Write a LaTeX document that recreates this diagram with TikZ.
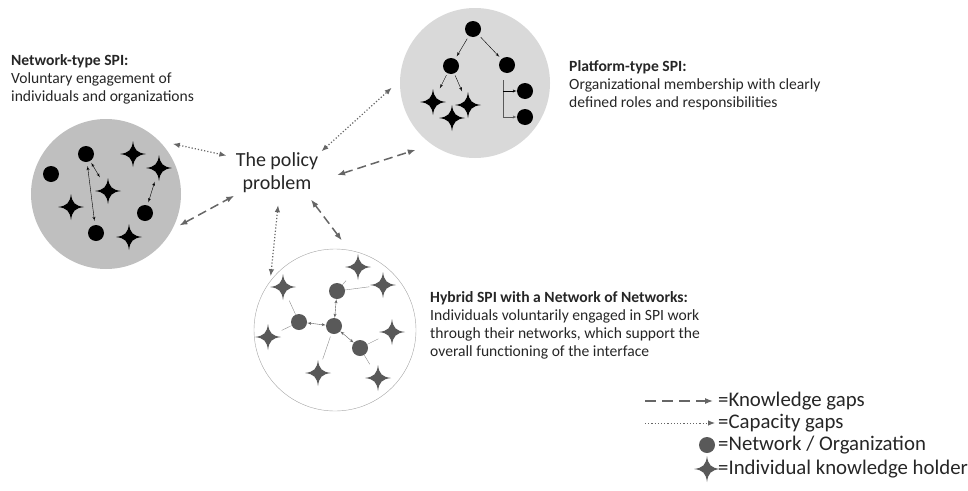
\documentclass[tikz,border=0pt]{standalone}
\usepackage{fontspec}
\setmainfont{Carlito}
\usetikzlibrary{positioning}
\usetikzlibrary{arrows}
\usetikzlibrary{arrows.meta}
\usetikzlibrary{shapes.geometric}

\definecolor{arrowgray}{HTML}{666666}
\definecolor{darkcircle}{HTML}{BFBFBF}
\definecolor{lightcircle}{HTML}{D9D9D9}
\definecolor{rimgray}{HTML}{A6A6A6}
\definecolor{dotgray}{HTML}{595959}
\definecolor{linegray}{HTML}{8C8C8C}
\definecolor{textgray}{HTML}{262626}

\begin{document}
\begin{tikzpicture}[x=1pt,y=-1pt]

\tikzset{
    org/.style={circle, fill=#1, minimum size=16pt, inner sep=0pt},
    org/.default=black,
    holder/.style={rectangle, inner sep=0pt, minimum size=27pt, path picture={
        \fill[#1, shift={(path picture bounding box.center)}]
          (0pt,13pt) .. controls (1.2pt,4pt) and (4pt,1.2pt) .. (13pt,0pt)
          .. controls (4pt,-1.2pt) and (1.2pt,-4pt) .. (0pt,-13pt)
          .. controls (-1.2pt,-4pt) and (-4pt,-1.2pt) .. (-13pt,0pt)
          .. controls (-4pt,1.2pt) and (-1.2pt,4pt) .. cycle;}},
    holder/.default=black,
    kgap/.style={<->, > = {Latex[length=8pt,width=6pt]}, draw=arrowgray, line width=1.5pt, dash pattern=on 9pt off 5pt},
    cgap/.style={<->, > = {Latex[length=7pt,width=5.5pt]}, draw=arrowgray, line width=1.2pt, dotted},
    link/.style={<->, > = latex', thin},
    tree/.style={->, > = latex', thin},
    spoke/.style={draw=linegray, thin},
    desc/.style={align=left, anchor=west, inner sep=0pt, font=\fontsize{15.6}{18}\selectfont, text=textgray},
    legend/.style={anchor=west, inner sep=0pt, font=\fontsize{20.8}{23}\selectfont, text=textgray}
}
\useasboundingbox (0,0) rectangle (968,490);

% ----------- the three SPI types ----------- %
\node[circle, fill=darkcircle, minimum size=150pt, inner sep=0pt] (netw) at (106,194) {};
\node[circle, fill=lightcircle, minimum size=150pt, inner sep=0pt] (plat) at (475,83) {};
\node[circle, draw=rimgray, fill=white, minimum size=162pt, inner sep=0pt] (hyb) at (335,330) {};

% network-type
\node[org] (n1) at (86,154) {};
\node[org] (n2) at (51,174) {};
\node[org] (n3) at (145,213) {};
\node[org] (n4) at (96,233) {};
\node[holder] (ns1) at (133,154) {};
\node[holder] (ns2) at (159,168) {};
\node[holder] (ns3) at (108,191) {};
\node[holder] (ns4) at (71,207) {};
\node[holder] (ns5) at (129,237) {};
\draw[link, shorten <=2pt] (n1) -- (ns3);
\draw[link, shorten <=4pt, shorten >=4pt] (n1) -- (n4);
\draw[link, shorten >=3pt] (ns2) -- (n3);

% platform-type
\node[org] (p1) at (473,29) {};
\node[org] (p2) at (451,66) {};
\node[org] (p3) at (507,65) {};
\node[org] (p4) at (525,91) {};
\node[org] (p5) at (525,117) {};
\node[holder] (ps1) at (433,102) {};
\node[holder] (ps2) at (468,105) {};
\node[holder] (ps3) at (452,118) {};
\draw[tree, shorten <=3pt, shorten >=3pt] (p1) -- (p2);
\draw[tree, shorten <=3pt, shorten >=3pt] (p1) -- (p3);
\draw[tree, shorten <=2pt] (p2) -- (ps1);
\draw[tree, shorten <=2pt] (p2) -- (ps2);
\coordinate (br) at (503,80);
\draw[tree, draw=dotgray] (br) |- (p5);
\draw[tree] (br |- p4) -- (p4);

% hybrid
\node[org=dotgray] (h1) at (337,291) {};
\node[org=dotgray] (h2) at (299,322) {};
\node[org=dotgray] (h3) at (334,326) {};
\node[org=dotgray] (h4) at (360,348) {};
\node[holder=dotgray] (hs1) at (358,267) {};
\node[holder=dotgray] (hs2) at (383,285) {};
\node[holder=dotgray] (hs3) at (283,287) {};
\node[holder=dotgray] (hs4) at (268,337) {};
\node[holder=dotgray] (hs5) at (392,332) {};
\node[holder=dotgray] (hs6) at (318,373) {};
\node[holder=dotgray] (hs7) at (378,378) {};
\draw[spoke] (h1) -- (hs1);
\draw[spoke] (h1) -- (hs2);
\draw[spoke] (h2) -- (hs3);
\draw[spoke] (h2) -- (hs4);
\draw[spoke, shorten <=3pt] (h3) -- (hs6);
\draw[spoke] (h4) -- (hs5);
\draw[spoke] (h4) -- (hs7);
\draw[link, draw=dotgray] (h2) -- (h3);
\draw[link, draw=dotgray] (h1) -- (h3);
\draw[link, draw=dotgray] (h3) -- (h4);

% ----------- texts ----------- %
\node[ellipse, minimum width=120pt, minimum height=64pt, inner sep=0pt, align=center,
      font=\fontsize{20}{23}\selectfont, text=textgray] (policy) at (277,173) {The policy\\problem};
\node[desc] (netwtext) at (11,79) {\textbf{Network-type SPI:}\\Voluntary engagement of\\individuals and organizations};
\node[desc] (plattext) at (569,85) {\textbf{Platform-type SPI:}\\Organizational membership with clearly\\defined roles and responsibilities};
\node[desc] (hybtext) at (430,325) {\textbf{Hybrid SPI with a\ Network of Networks:}\\Individuals voluntarily engaged in SPI work\\through their networks, which support the\\overall functioning of the interface};

% ----------- gaps ----------- %
\draw[cgap, shorten <=14pt] (netw.45) -- (policy.161);
\draw[kgap, shorten <=8pt] (netw.-28) -- (policy.208);
\draw[cgap, shorten >=11pt] (policy.26) -- (plat.178);
\draw[kgap, shorten >=17pt] (policy.-2) -- (plat.235);
\draw[cgap, shorten >=5pt] (policy.272) -- (hyb.143);
\draw[kgap, shorten >=12pt] (policy.-38) -- (hyb.80);

% ----------- legend ----------- %
\node[legend] (lk) at (718,401) {=Knowledge gaps};
\node[legend] (lc) at (718,423) {=Capacity gaps};
\node[legend] (lo) at (718,445) {=Network / Organization};
\node[legend] (lh) at (718,469) {=Individual knowledge holder};
\coordinate (lk0) at (645,401);
\coordinate (lc0) at (645,423);
\draw[kgap, -> , line width=1.2pt, dash pattern=on 11pt off 6pt] (lk0) -- ([xshift=-5pt]lk.west);
\draw[cgap, -> , line width=0.9pt] (lc0) -- ([xshift=-3pt]lc.west);
\node[org=dotgray] (lodot) at (707,445) {};
\node[holder=dotgray] (lhstar) at (707,469) {};

\end{tikzpicture}
\end{document}
